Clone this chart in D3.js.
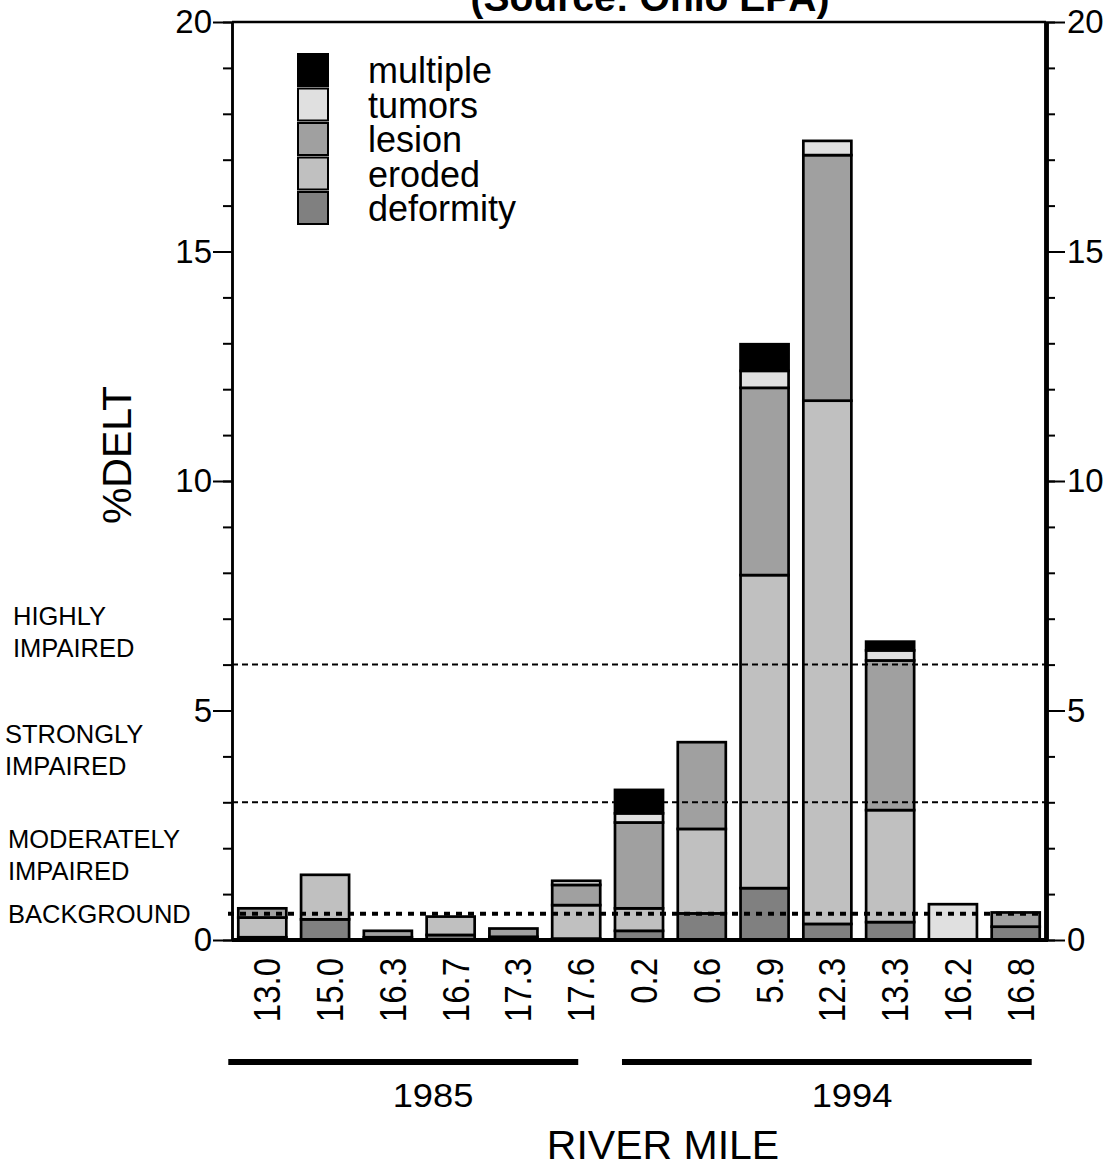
<!DOCTYPE html>
<html>
<head>
<meta charset="utf-8">
<script src="https://cdn.jsdelivr.net/npm/d3@7"></script>
<style>
  body { margin: 0; background: #fff; }
  text { font-family: "Liberation Sans", Arial, sans-serif; fill: #000; }
</style>
</head>
<body>
<svg width="1110" height="1162"></svg>
<script>
// river mile sites, first six 1985, rest 1994
var sites = ["13.0","15.0","16.3","16.7","17.3","17.6","0.2","0.6","5.9","12.3","13.3","16.2","16.8"];
var deformity = [0.06, 0.45, 0.06, 0.11, 0.07, 0.03, 0.20, 0.58, 1.13, 0.35, 0.39, 0.00, 0.29];
var eroded    = [0.43, 0.97, 0.00, 0.40, 0.00, 0.73, 0.49, 1.84, 6.82, 11.40, 2.44, 0.00, 0.00];
var lesion    = [0.20, 0.00, 0.14, 0.00, 0.18, 0.44, 1.87, 1.89, 4.08, 5.35, 3.26, 0.00, 0.31];
var tumors    = [0.00, 0.00, 0.00, 0.00, 0.00, 0.09, 0.20, 0.00, 0.37, 0.31, 0.22, 0.78, 0.00];
var multiple  = [0.00, 0.00, 0.00, 0.00, 0.00, 0.00, 0.51, 0.00, 0.58, 0.00, 0.19, 0.00, 0.00];

var keys = ["deformity","eroded","lesion","tumors","multiple"];
var legendKeys = ["multiple","tumors","lesion","eroded","deformity"];
var yTicks = [0, 5, 10, 15, 20];

// impairment thresholds
var thresholds = [6, 3];
var background = 0.57;
var impairLabels = [["HIGHLY","IMPAIRED"],["STRONGLY","IMPAIRED"],["MODERATELY","IMPAIRED"],["BACKGROUND"]];
var years = ["1985", "1994"];

var color = d3.scaleOrdinal()
  .domain(keys)
  .range(["#808080", "#c0c0c0", "#a0a0a0", "#e0e0e0", "#000000"]);

var svg = d3.select("svg");
var plotL = 232, plotR = 1046, plotT = 22, plotB = 940;

var x = d3.scaleBand().domain(sites).range([plotL, plotR]).paddingInner(0.235).paddingOuter(0.1);
var y = d3.scaleLinear().domain([0, 20]).range([plotB, plotT]);

var rows = sites.map(function(s, i) {
  return {site: s, deformity: deformity[i], eroded: eroded[i], lesion: lesion[i], tumors: tumors[i], multiple: multiple[i]};
});
var series = d3.stack().keys(keys)(rows);

// bars
svg.append("g").selectAll("g")
  .data(series)
  .enter().append("g")
    .attr("fill", function(d) { return color(d.key); })
  .selectAll("rect")
  .data(function(d) { return d.filter(function(p) { return p[1] - p[0] > 0; }); })
  .enter().append("rect")
    .attr("x", function(d) { return x(d.data.site); })
    .attr("width", x.bandwidth())
    .attr("y", function(d) { return y(d[1]); })
    .attr("height", function(d) { return y(d[0]) - y(d[1]); })
    .attr("stroke", "#000")
    .attr("stroke-width", 2.7);

// threshold lines
svg.append("g").selectAll("line")
  .data(thresholds)
  .enter().append("line")
    .attr("x1", plotL).attr("x2", plotR)
    .attr("y1", function(d) { return y(d); })
    .attr("y2", function(d) { return y(d); })
    .attr("stroke", "#000")
    .attr("stroke-width", 2)
    .attr("stroke-dasharray", "6,4");

svg.append("line")
  .attr("x1", plotL - 4).attr("x2", plotR - 6)
  .attr("y1", y(background)).attr("y2", y(background))
  .attr("stroke", "#000")
  .attr("stroke-width", 4)
  .attr("stroke-dasharray", "6,6");

// axes
function styleAxis(g, w) {
  g.select(".domain").attr("stroke-width", w);
  g.selectAll(".tick line").attr("stroke-width", 2);
  g.selectAll(".tick text").attr("font-size", 33).attr("font-family", "Liberation Sans, Arial, sans-serif");
}

var minorL = svg.append("g").attr("transform", "translate(" + plotL + ",0)")
  .call(d3.axisLeft(y).tickValues(d3.range(0, 21)).tickSize(9).tickSizeOuter(0).tickFormat(""));
styleAxis(minorL, 2.5);
var majorL = svg.append("g").attr("transform", "translate(" + plotL + ",0)")
  .call(d3.axisLeft(y).tickValues(yTicks).tickSize(19).tickSizeOuter(0).tickPadding(1));
styleAxis(majorL, 2.5);

var minorR = svg.append("g").attr("transform", "translate(" + plotR + ",0)")
  .call(d3.axisRight(y).tickValues(d3.range(0, 21)).tickSize(9).tickSizeOuter(0).tickFormat(""));
styleAxis(minorR, 4.5);
var majorR = svg.append("g").attr("transform", "translate(" + plotR + ",0)")
  .call(d3.axisRight(y).tickValues(yTicks).tickSize(19).tickSizeOuter(0).tickPadding(2));
styleAxis(majorR, 4.5);

// frame top and baseline
svg.append("line").attr("x1", plotL).attr("x2", plotR).attr("y1", plotT).attr("y2", plotT)
  .attr("stroke", "#000").attr("stroke-width", 2.3);
svg.append("line").attr("x1", plotL).attr("x2", plotR + 2).attr("y1", plotB).attr("y2", plotB)
  .attr("stroke", "#000").attr("stroke-width", 4);

// x labels, rotated
svg.append("g").selectAll("text")
  .data(sites)
  .enter().append("text")
    .attr("transform", function(d) {
      return "translate(" + (x(d) + x.bandwidth() / 2 + 18) + ",958) rotate(-90) scale(1,1.12)";
    })
    .attr("text-anchor", "end")
    .attr("font-size", 33)
    .text(function(d) { return d; });

// year bars under labels
var yearSpans = [
  [x(sites[0]) - 10, x(sites[5]) + x.bandwidth() - 22, 433],
  [x(sites[6]) + 7, x(sites[12]) + x.bandwidth() - 8, 852]
];
yearSpans.forEach(function(s, i) {
  svg.append("line").attr("x1", s[0]).attr("x2", s[1]).attr("y1", 1062).attr("y2", 1062)
    .attr("stroke", "#000").attr("stroke-width", 6);
  svg.append("text")
    .attr("transform", "translate(" + s[2] + ",1107) scale(1.1,1)")
    .attr("text-anchor", "middle")
    .attr("font-size", 33)
    .text(years[i]);
});

svg.append("text")
  .attr("x", 663).attr("y", 1159)
  .attr("text-anchor", "middle")
  .attr("font-size", 41)
  .text("RIVER MILE");

svg.append("text")
  .attr("transform", "translate(131,455) rotate(-90)")
  .attr("text-anchor", "middle")
  .attr("font-size", 41)
  .text("%DELT");

// title (cut at the top)
svg.append("text")
  .attr("x", 650).attr("y", 11)
  .attr("text-anchor", "middle")
  .attr("font-size", 39)
  .attr("font-weight", "bold")
  .text("(Source: Ohio EPA)");

// impairment labels on the left
var impairPos = [[13, 625], [5, 743], [8, 848], [8, 923]];
impairLabels.forEach(function(lines, i) {
  var t = svg.append("text")
    .attr("x", impairPos[i][0]).attr("y", impairPos[i][1])
    .attr("font-size", 25.5);
  lines.forEach(function(l, j) {
    t.append("tspan").attr("x", impairPos[i][0]).attr("dy", j ? 32 : 0).text(l);
  });
});

// legend
var legend = svg.append("g").attr("transform", "translate(298,54)");
var item = legend.selectAll("g")
  .data(legendKeys)
  .enter().append("g")
    .attr("transform", function(d, i) { return "translate(0," + (i * 34.5) + ")"; });
item.append("rect")
  .attr("width", 30).attr("height", 32)
  .attr("fill", function(d) { return color(d); })
  .attr("stroke", "#000").attr("stroke-width", 2);
item.append("text")
  .attr("x", 70).attr("y", 29)
  .attr("font-size", 36)
  .text(function(d) { return d; });
</script>
</body>
</html>
